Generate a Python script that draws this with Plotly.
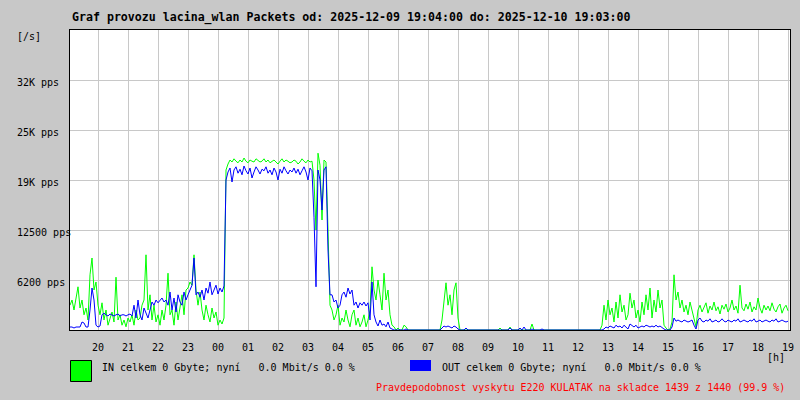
import plotly.graph_objects as go

# ---------------- data ----------------
title_text = "Graf provozu lacina_wlan Packets od: 2025-12-09 19:04:00 do: 2025-12-10 19:03:00"
sample_minutes = 4          # one sample every 4 minutes, starting 19:04
hour_labels = ["20", "21", "22", "23", "00", "01", "02", "03", "04", "05", "06", "07",
               "08", "09", "10", "11", "12", "13", "14", "15", "16", "17", "18", "19"]
hour_positions = [56 + 60 * k for k in range(24)]   # minutes after 19:04
y_tick_values = [6250, 12500, 18750, 25000, 31250]
y_tick_labels = ["6200 pps", "12500 pps", "19K pps", "25K pps", "32K pps"]

in_pps = [
    # 19:04 - 20:00
    3100, 3750, 2500, 4100, 5400, 2750, 3750, 1900, 2750, 1250, 6900, 9000, 5000, 6000, 3100,
    1900, 3400, 1250, 2500, 600, 1500, 2250, 1000, 6600, 1250, 1900, 600, 1250, 400, 1500,
    1000, 1900, 600, 2500, 1250, 1500, 3100, 3750, 9400, 2500, 4400, 1250, 3100, 1000, 1900,
    600, 2500, 1250, 3100, 7100, 1900, 2500, 600, 3500, 1250, 2750, 4400, 1900, 5000, 5250,
    6000, 5600, 9400, 5000, 3100, 4750, 2500, 1250, 3100, 1900, 1000, 2750, 1500, 2250, 600,
    1250, 750, 1500, 20000,
    # plateau
    20750, 21250, 21000, 21400, 21100, 20900, 21250, 21000, 21500, 21100,
    20900, 21250, 21100, 21000, 21400, 21250, 21000, 21100, 21400, 21000,
    21250, 20900, 21100, 21250, 21000, 20750, 21100, 21400, 21000, 21250,
    21100, 20900, 21000, 21250, 21100, 20750, 21000, 21400, 21100, 20900,
    21250, 21000, 21100,
    18750, 12500, 22100, 20600, 13750, 21250, 21000, 12500, 3100,
    2500, 1250, 1900, 3100, 600, 1500, 1000, 2500, 1250, 400,
    1900, 2500, 600, 1500, 400, 1000, 1900, 400, 1250, 2500,
    7900, 5000, 3750, 6250, 4400, 2500, 7100, 3750, 5000, 1900,
    600, 400, 0, 250, 0, 0, 600, 400, 0,
    0, 0, 0, 0, 0, 0, 0, 0, 0, 0, 0, 0, 0, 0, 0, 0,
    1250, 3750, 5900, 3100, 4400, 1900, 5000, 5900, 1500,
    0, 0, 0, 0, 0, 0, 0, 0, 0, 0, 0, 0, 0, 0, 0, 0, 0, 0, 0, 0,
    250, 0, 0, 0, 0, 375, 0, 0, 0, 0, 0, 0, 0, 0, 0, 0, 750, 0, 0, 0,
    0, 0, 0, 0, 0, 0, 0, 0, 0, 0, 0, 0, 0, 0, 0, 0, 0, 0, 0, 0,
    0, 0, 0, 0, 0, 0, 0, 0, 0, 0, 0,
    600, 3100, 1250, 3750, 1900, 2750, 1000, 3500, 1500, 4400,
    2250, 3100, 1250, 1900, 4600, 2750, 3750, 1500, 2500, 1000,
    3500, 1900, 4400, 2500, 5250, 1500, 3750, 2250, 5000, 2750,
    3750, 600, 250, 0, 125, 1000,
    6900, 3750, 4750, 2750, 3750, 2250, 3100, 1900, 3500, 2500, 1250, 400,
    2500, 3100, 2250, 2750, 3400, 2100, 3000, 2500, 3500, 2400,
    2900, 2000, 3100, 2600, 3250, 2250, 2750, 3750, 2500, 3000,
    2100, 5600, 2750, 2400, 3250, 2600, 3500, 2250, 2900, 2500,
    4000, 2750, 2100, 3100, 2500, 3000, 2400, 3400, 2600, 2250,
    2900, 3250, 2100, 2750, 3100, 2400,
]

out_pps = [
    375, 375, 250, 375, 375, 375, 1000, 875, 375, 375, 2500, 5250, 3750, 600, 375,
    500, 1900, 2100, 1900, 1750, 2000, 1900, 1750, 1900, 2000, 1750, 1900, 1900, 1750, 1900,
    2000, 1750, 3100, 1500, 3750, 1900, 1250, 2750, 2100, 1500, 2500, 3500, 3100, 3750, 3400,
    3750, 4000, 3500, 3750, 3100, 4750, 2500, 4000, 2250, 4400, 3500, 3100, 4750, 3750, 4400,
    5000, 5600, 9000, 4400, 4750, 4100, 5000, 3750, 5250, 4600, 6000, 4400, 5000, 5600, 4500,
    5250, 4750, 5500, 18750,
    19750, 20250, 18500, 20000, 20400, 19600, 20100, 19400, 20500, 19900,
    19500, 20250, 19000, 19750, 20400, 20000, 19500, 20100, 19900, 20400,
    19600, 20000, 19400, 20250, 19750, 18750, 20100, 19600, 20400, 19900,
    19500, 20000, 19750, 20250, 19600, 20100, 19400, 19900, 20400, 19750,
    18750, 20250, 19900,
    14100, 5400, 20000, 18750, 15000, 20000, 20400, 10000, 4400,
    4400, 3500, 3750, 2750, 3100, 4400, 4750, 4100, 5250, 4500,
    5000, 3100, 3500, 2750, 3400, 3100, 3500, 3000, 3400, 1250,
    6000, 1900, 1000, 500, 1250, 600, 750, 400, 1000, 250,
    125, 0, 0, 0, 0, 0, 0, 125, 0,
    0, 0, 0, 0, 0, 0, 0, 0, 0, 0, 0, 0, 0, 0, 0, 0,
    250, 500, 375, 500, 375, 250, 500, 375, 125,
    0, 0, 0, 250, 0, 0, 0, 0, 0, 0, 0, 0, 0, 0, 0, 0, 0, 0, 0, 0,
    0, 0, 0, 0, 0, 250, 0, 0, 0, 0, 250, 0, 375, 0, 0, 0, 125, 0, 0, 0,
    0, 125, 0, 0, 0, 0, 0, 0, 0, 0, 0, 0, 0, 0, 0, 0, 0, 0, 0, 0,
    0, 0, 0, 0, 0, 0, 0, 0, 0, 0, 0,
    0, 125, 375, 250, 500, 375, 250, 600, 375, 500,
    250, 600, 375, 125, 750, 500, 375, 600, 250, 375,
    500, 375, 600, 500, 375, 500, 375, 600, 375, 500,
    250, 125, 0, 0, 0, 375,
    1500, 1100, 1250, 1100, 1000, 1250, 1100, 1000, 1100, 1250, 600, 125,
    1250, 1500, 1100, 1000, 1250, 1100, 1400, 1000, 1100, 1250,
    1000, 1100, 1400, 1100, 1000, 1250, 1100, 1000, 1250, 1100,
    1400, 1000, 1100, 1250, 1100, 1000, 1250, 1100, 1400, 1000,
    1100, 1250, 1000, 1100, 1250, 1100, 1000, 1250, 1100, 1400,
    1000, 1100, 1250, 1100, 1000, 1100,
]

in_legend = "IN celkem 0 Gbyte; nyní   0.0 Mbit/s 0.0 %"
out_legend = "OUT celkem 0 Gbyte; nyní   0.0 Mbit/s 0.0 %"
footer_text = "Pravdepodobnost vyskytu E220 KULATAK na skladce 1439 z 1440 (99.9 %)"

# ---------------- figure ----------------
t_in = [i * sample_minutes for i in range(len(in_pps))]
t_out = [i * sample_minutes for i in range(len(out_pps))]

FONT = "DejaVu Sans Mono"
BG = "#c8c8c8"
GRID = "#c8c8c8"

fig = go.Figure()
fig.add_trace(go.Scatter(x=t_in, y=in_pps, mode="lines",
                         line=dict(color="#00ff00", width=1), name="IN"))
fig.add_trace(go.Scatter(x=t_out, y=out_pps, mode="lines",
                         line=dict(color="#0000ff", width=1), name="OUT"))

W, H = 800, 400
L, R, T, B = 70, 10, 30, 70
PW, PH = W - L - R, H - T - B


def px(xp):
    return (xp - L) / PW


def py(yp):
    return (H - B - yp) / PH


fig.update_layout(
    width=W, height=H,
    margin=dict(l=L, r=R, t=T, b=B, pad=0),
    paper_bgcolor=BG, plot_bgcolor="white",
    showlegend=False,
    font=dict(family=FONT, size=10, color="black"),
    xaxis=dict(range=[0, 1440], tickvals=hour_positions, showticklabels=False,
               ticks="", showgrid=True, gridcolor=GRID, gridwidth=1,
               showline=True, mirror=True, linecolor="black", linewidth=1,
               zeroline=False, fixedrange=True),
    yaxis=dict(range=[0, 37500], tickvals=y_tick_values, showticklabels=False,
               ticks="", showgrid=True, gridcolor=GRID, gridwidth=1,
               showline=True, mirror=True, linecolor="black", linewidth=1,
               zeroline=False, fixedrange=True),
)

ann = []
# title
ann.append(dict(text="<b>" + title_text + "</b>", x=px(70), y=py(18), xref="paper", yref="paper",
                xanchor="left", yanchor="middle", showarrow=False,
                font=dict(family=FONT, size=11.6, color="black")))
ann.append(dict(text="[/s]", x=px(15), y=py(36), xref="paper", yref="paper",
                xanchor="left", yanchor="middle", showarrow=False,
                font=dict(family=FONT, size=10)))
for v, lab in zip(y_tick_values, y_tick_labels):
    ann.append(dict(text=lab, x=px(15), y=v, xref="paper", yref="y", yshift=-2,
                    xanchor="left", yanchor="middle", showarrow=False,
                    font=dict(family=FONT, size=10)))
for pos, lab in zip(hour_positions, hour_labels):
    ann.append(dict(text=lab, x=pos, y=py(347), xref="x", yref="paper",
                    xanchor="center", yanchor="middle", showarrow=False,
                    font=dict(family=FONT, size=10)))
ann.append(dict(text="[h]", x=px(787), y=py(357), xref="paper", yref="paper",
                xanchor="right", yanchor="middle", showarrow=False,
                font=dict(family=FONT, size=10)))
ann.append(dict(text=in_legend.replace(" ", "\u00a0"), x=px(100), y=py(367), xref="paper", yref="paper",
                xanchor="left", yanchor="middle", showarrow=False,
                font=dict(family=FONT, size=10)))
ann.append(dict(text=out_legend.replace(" ", "\u00a0"), x=px(440), y=py(367), xref="paper", yref="paper",
                xanchor="left", yanchor="middle", showarrow=False,
                font=dict(family=FONT, size=10)))
ann.append(dict(text=footer_text.replace(" ", "\u00a0"), x=px(787), y=py(387), xref="paper", yref="paper",
                xanchor="right", yanchor="middle", showarrow=False,
                font=dict(family=FONT, size=10, color="#ff0000")))
fig.update_layout(annotations=ann)

fig.update_layout(shapes=[
    dict(type="rect", xref="paper", yref="paper", x0=px(70.5), x1=px(91.5), y0=py(381.5), y1=py(360.5),
         fillcolor="#00ff00", line=dict(color="black", width=1)),
    dict(type="rect", xref="paper", yref="paper", x0=px(410), x1=px(431), y0=py(371), y1=py(360),
         fillcolor="#0000ff", line=dict(width=0)),
])

fig.write_html("out.html", config={"displayModeBar": False},
               post_script="document.body.style.margin='0px';document.body.style.padding='0px';"
                           "document.body.style.overflow='hidden';document.body.style.background='#c8c8c8';")
